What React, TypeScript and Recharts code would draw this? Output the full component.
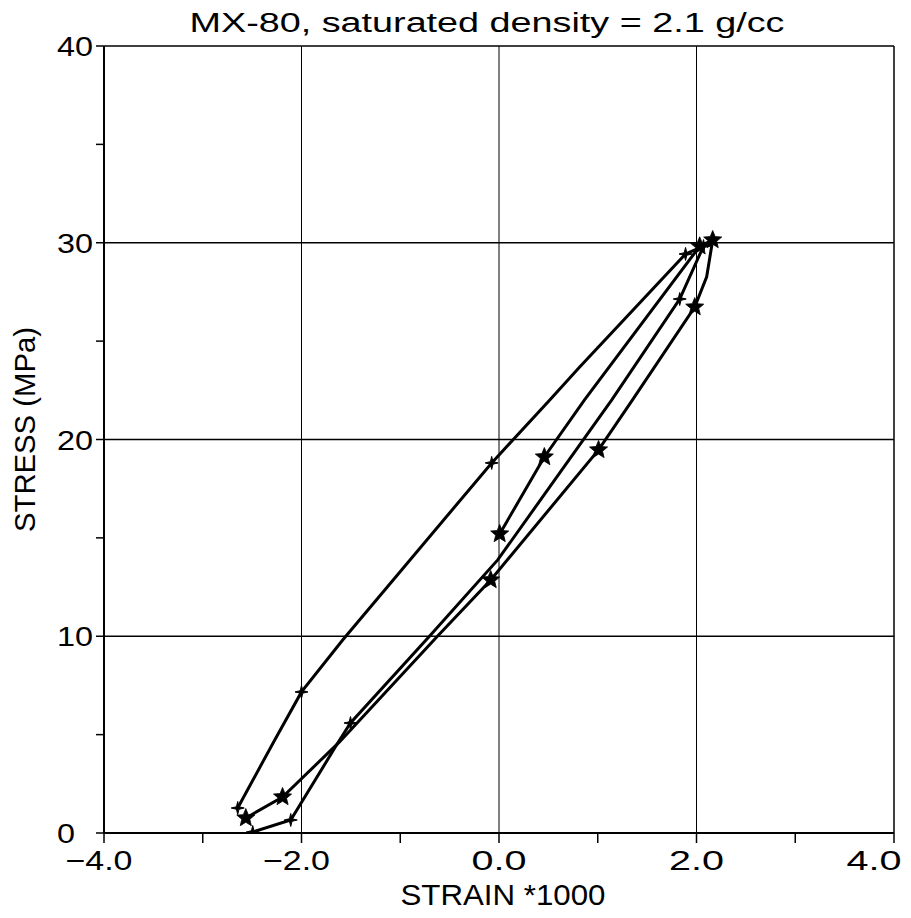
import React from "react";
import { ComposedChart, Line, XAxis, YAxis, ReferenceLine, Label } from "recharts";

const TITLE = "MX-80, saturated density = 2.1 g/cc";
const X_TITLE = "STRAIN  *1000";
const Y_TITLE = "STRESS (MPa)";

const X_TICKS = [-4, -3, -2, -1, 0, 1, 2, 3, 4];
const X_LABELED = [-4, -2, 0, 2, 4];
const Y_TICKS = [0, 5, 10, 15, 20, 25, 30, 35, 40];
const Y_LABELED = [0, 10, 20, 30, 40];
const X_GRID = [-2, 0, 2];
const Y_GRID = [10, 20, 30];

// Cycle 1 (small "+" markers)
const C1_STRAIN = [-2.494, -2.109, -1.633, -1.504, -0.702, -0.013, 0.615, 1.142, 1.83, 2.071, 1.889, 0.817, 0.514, -0.074, -1.583, -2.0, -2.271, -2.646];
const C1_STRESS = [0.05, 0.66, 4.57, 5.59, 10.01, 13.88, 18.3, 22.01, 27.14, 29.83, 29.43, 23.68, 22.01, 18.81, 9.81, 7.17, 4.73, 1.27];
const C1_MARK = [1, 1, 0, 1, 0, 0, 0, 0, 1, 1, 1, 0, 0, 1, 0, 1, 0, 1];

// Cycle 2 (large star markers)
const C2_STRAIN = [-2.564, -2.192, -1.615, -0.621, -0.084, 1.008, 1.352, 1.982, 2.103, 2.164, 2.032, 0.866, 0.459, 0.007];
const C2_STRESS = [0.76, 1.83, 4.63, 10.01, 12.86, 19.47, 22.01, 26.73, 28.27, 30.14, 29.82, 22.01, 19.11, 15.2];
const C2_MARK = [1, 1, 0, 0, 1, 1, 0, 1, 0, 1, 1, 0, 1, 1];

const cycle1 = C1_STRAIN.map((x, i) => ({ x, y: C1_STRESS[i], m: C1_MARK[i] }));
const cycle2 = C2_STRAIN.map((x, i) => ({ x, y: C2_STRESS[i], m: C2_MARK[i] }));

const FONT = "'Liberation Sans', Arial, sans-serif";

function starPoints(cx: number, cy: number, n: number, ro: number, ri: number): string {
  const pts: string[] = [];
  for (let k = 0; k < n * 2; k++) {
    const r = k % 2 === 0 ? ro : ri;
    const a = -Math.PI / 2 + (k * Math.PI) / n;
    pts.push(`${(cx + r * Math.cos(a)).toFixed(2)},${(cy + r * Math.sin(a)).toFixed(2)}`);
  }
  return pts.join(" ");
}

const PlusDot = (props: any) => {
  const { cx, cy, payload, index } = props;
  if (!payload || !payload.m || cx == null || cy == null) return <g key={`p${index}`} />;
  return <polygon key={`p${index}`} points={starPoints(cx, cy, 4, 6.5, 1.8)} fill="#000" stroke="#000" strokeWidth={1} />;
};

const StarDot = (props: any) => {
  const { cx, cy, payload, index } = props;
  if (!payload || !payload.m || cx == null || cy == null) return <g key={`s${index}`} />;
  return <polygon key={`s${index}`} points={starPoints(cx, cy, 5, 9.5, 4.2)} fill="#000" stroke="#000" strokeWidth={0.8} />;
};

const fmtX = (v: number) => (v < 0 ? "\u2212" + Math.abs(v).toFixed(1) : v.toFixed(1));

const XTick = (props: any) => {
  const { x, y, payload } = props;
  const v = payload.value;
  if (!X_LABELED.includes(v)) return <g />;
  const s = fmtX(v);
  const w = v < 0 ? 67 : 55;
  const cx = v === 4 ? x - 20 : v < 0 ? x - 5 : x;
  return (
    <text x={cx} y={y + 23} textAnchor="middle" fontFamily={FONT} fontSize={28} fill="#000" textLength={w} lengthAdjust="spacingAndGlyphs">
      {s}
    </text>
  );
};

const YTick = (props: any) => {
  const { x, y, payload } = props;
  const v = payload.value;
  if (!Y_LABELED.includes(v)) return <g />;
  const s = String(v);
  const w = s.length === 1 ? 18 : 36;
  return (
    <text x={x - 36} y={y + 10} textAnchor="start" fontFamily={FONT} fontSize={27} fill="#000" textLength={w} lengthAdjust="spacingAndGlyphs">
      {s}
    </text>
  );
};

const XTitle = (props: any) => {
  const vb = props.viewBox || { x: 0, y: 0, width: 0, height: 0 };
  return (
    <text x={vb.x + vb.width / 2 + 4} y={vb.y + 72} textAnchor="middle" fontFamily={FONT} fontSize={30} fill="#000" textLength={205} lengthAdjust="spacingAndGlyphs">
      {X_TITLE}
    </text>
  );
};

const YTitle = (props: any) => {
  const vb = props.viewBox || { x: 0, y: 0, width: 0, height: 0 };
  const cx = 27;
  const cy = vb.y + vb.height / 2 - 10;
  return (
    <text x={cx} y={cy} transform={`rotate(-90 ${cx} ${cy})`} textAnchor="middle" fontFamily={FONT} fontSize={30} fill="#000" textLength={205} lengthAdjust="spacingAndGlyphs">
      {Y_TITLE}
    </text>
  );
};

export default function App() {
  return (
    <div style={{ position: "relative", width: 903, height: 910, background: "#fff" }}>
      <ComposedChart width={903} height={910} margin={{ top: 38, right: 17, bottom: 25, left: 26 }}>
        <XAxis
          type="number"
          dataKey="x"
          domain={[-4, 4]}
          ticks={X_TICKS}
          interval={0}
          allowDataOverflow
          height={60}
          tickSize={10}
          tickMargin={4}
          tick={XTick}
          axisLine={{ stroke: "#000", strokeWidth: 2 }}
          tickLine={{ stroke: "#000", strokeWidth: 1.5 }}
        >
          <Label content={XTitle} />
        </XAxis>
        <YAxis
          type="number"
          domain={[0, 40]}
          ticks={Y_TICKS}
          interval={0}
          allowDataOverflow
          width={70}
          tickSize={8}
          tickMargin={3}
          tick={YTick}
          axisLine={{ stroke: "#000", strokeWidth: 2 }}
          tickLine={{ stroke: "#000", strokeWidth: 1.5 }}
        >
          <Label content={YTitle} />
        </YAxis>
        {X_GRID.map((v) => (
          <ReferenceLine key={`gx${v}`} x={v} stroke="#000" strokeWidth={1} />
        ))}
        {Y_GRID.map((v) => (
          <ReferenceLine key={`gy${v}`} y={v} stroke="#000" strokeWidth={1.3} />
        ))}
        <ReferenceLine y={40} stroke="#000" strokeWidth={1.5} />
        <ReferenceLine x={4} stroke="#000" strokeWidth={1.5} />
        <Line
          data={cycle1}
          dataKey="y"
          type="linear"
          stroke="#000"
          strokeWidth={3}
          dot={PlusDot}
          activeDot={false}
          isAnimationActive={false}
        />
        <Line
          data={cycle2}
          dataKey="y"
          type="linear"
          stroke="#000"
          strokeWidth={3}
          dot={StarDot}
          activeDot={false}
          isAnimationActive={false}
        />
      </ComposedChart>
      <svg width={903} height={910} style={{ position: "absolute", left: 0, top: 0, pointerEvents: "none" }}>
        <text x={479} y={24} textAnchor="middle" fontFamily={FONT} fontSize={27} fill="#000" textLength={595} lengthAdjust="spacingAndGlyphs">
          {TITLE}
        </text>
      </svg>
    </div>
  );
}
